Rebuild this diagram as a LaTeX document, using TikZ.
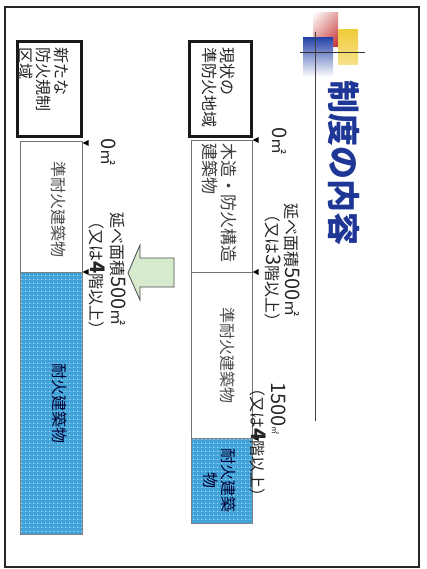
\documentclass[tikz,border=0pt]{standalone}
\usepackage{fontspec}
\newfontfamily\jp{Noto Sans CJK JP}
\usetikzlibrary{patterns.meta,shapes.geometric,shadings}
\definecolor{firebl}{RGB}{62,164,220}
\definecolor{gridbl}{RGB}{95,140,175}
\definecolor{dotbl}{RGB}{190,225,245}
\definecolor{titlebl}{RGB}{30,55,150}
\definecolor{logored}{RGB}{195,45,45}
\definecolor{logoyel}{RGB}{240,205,60}
\definecolor{logoblu}{RGB}{40,70,170}
\definecolor{arrgreen}{RGB}{214,234,206}
\tikzdeclarepattern{name=bluedots, type=colored,
  bounding box={(0pt,0pt) and (4pt,4pt)}, tile size={(4pt,4pt)},
  code={
    \pgfsetstrokecolor{gridbl}\pgfsetlinewidth{0.35pt}
    \pgfpathmoveto{\pgfpoint{0pt}{0pt}}\pgfpathlineto{\pgfpoint{4pt}{0pt}}
    \pgfpathmoveto{\pgfpoint{0pt}{0pt}}\pgfpathlineto{\pgfpoint{0pt}{4pt}}
    \pgfusepath{stroke}
    \pgfsetfillcolor{dotbl}
    \pgfpathcircle{\pgfpoint{2pt}{2pt}}{0.85pt}\pgfusepath{fill}}}
\newcommand{\bignum}[1]{{\fontsize{20}{20}\selectfont #1}}
\begin{document}
\begin{tikzpicture}[x=1pt,y=1pt,
  lbl/.style={font=\jp\fontsize{16}{18}\selectfont, rotate=-90, anchor=west, inner sep=0pt, text=black!85},
  seglbl/.style={font=\jp\fontsize{16}{18}\selectfont, rotate=-90, inner sep=0pt, text=black!70},
  thickbox/.style={draw=black!90, line width=3pt, inner sep=0pt},
  seg/.style={draw=black!55, line width=0.7pt, fill=white},
  fireseg/.style={draw=black!50, line width=0.7pt, preaction={fill=firebl}, pattern=bluedots},
  tri/.style={isosceles triangle, fill=black, draw=none, inner sep=0pt, minimum height=6pt, minimum width=6pt, isosceles triangle stretches, shape border rotate=180, anchor=apex}
]
\useasboundingbox (0,0) rectangle (427,-569);
\fill[white] (0,0) rectangle (427,-569);
% frame
\draw[line width=1.4pt, black!85] (5,-7) rectangle (419,-567);
\draw[line width=2.6pt, black!85] (5,-7) -- (5,-567);
% logo
\shade[upper left=white, upper right=logored!45, lower left=logored!55, lower right=logored] (313,-13) rectangle (338,-47);
\shade[top color=logoyel, bottom color=logoyel!60] (338,-30) rectangle (358,-65);
\shade[top color=logoblu, middle color=logoblu!85, bottom color=white] (303,-38) rectangle (333,-77);
\draw[line width=0.9pt, black!80] (300,-52) -- (365,-52);
\draw[line width=0.9pt, black!75] (315,-32) -- (315,-421);
% title
\node[font=\jp\bfseries\fontsize{33}{33}\selectfont, text=titlebl, rotate=-90, anchor=west, inner sep=0pt] (title) at (344,-80) {制度の内容};
% region boxes
\node[thickbox, minimum width=62pt, minimum height=95pt, anchor=north west] (box1) at (188,-40) {};
\node[lbl, align=left] (box1t) at (219,-47) {現状の\\準防火地域};
\node[thickbox, minimum width=64pt, minimum height=95pt, anchor=north west] (box2) at (16,-40) {};
\node[lbl, align=left] (box2t) at (44,-47) {新たな\\防火規制\\区域};
% upper bar
\draw[seg] (191,-140) rectangle (252,-272);
\draw[seg] (191,-272) rectangle (252,-438);
\draw[fireseg] (191,-438) rectangle (252,-523);
\node[lbl, align=left, font=\jp\fontsize{17}{19}\selectfont, text=black!75] (u1) at (219,-143) {木造・防火構造\\建築物};
\node[seglbl] (u2) at (228,-355) {準耐火建築物};
\node[seglbl, align=center, text=black!80!blue] (u3) at (220,-480) {耐火建築\\物};
% lower bar
\draw[seg] (20,-141) rectangle (82,-272);
\draw[fireseg] (20,-272) rectangle (82,-534);
\node[seglbl] (l1) at (59,-210) {準耐火建築物};
\node[seglbl, text=black!80!blue] (l2) at (60,-403) {耐火建築物};
% markers
\node[tri] (m1) at (252,-140) {};
\node[tri] (m2) at (252,-272) {};
\node[tri] (m3) at (252,-438) {};
\node[tri] (m4) at (82,-143) {};
\node[tri] (m5) at (82,-272) {};
% labels
\node[lbl] (z1) at (280,-127) {\bignum{0}㎡};
\node[lbl] (z2) at (109,-138) {\bignum{0}㎡};
\node[lbl] (a1) at (292,-203) {延べ面積\bignum{500}㎡};
\node[lbl] (a2) at (273,-206) {（又は\bignum{3}階以上）};
\node[lbl] (b1) at (279,-382) {\bignum{1500}{\fontsize{8}{8}\selectfont ㎡}};
\node[lbl] (b2) at (258,-380) {（又は\textbf{\bignum{4}}階以上）};
\node[lbl] (c1) at (118,-212) {延べ面積\bignum{500}㎡};
\node[lbl] (c2) at (97,-213) {（又は\textbf{\bignum{4}}階以上）};
% arrow
\draw[fill=arrgreen, draw=black!70, line width=0.8pt] (128,-273) -- (140,-245) -- (140,-258) -- (174,-258) -- (174,-287) -- (140,-287) -- (140,-300) -- cycle;
\end{tikzpicture}
\end{document}
